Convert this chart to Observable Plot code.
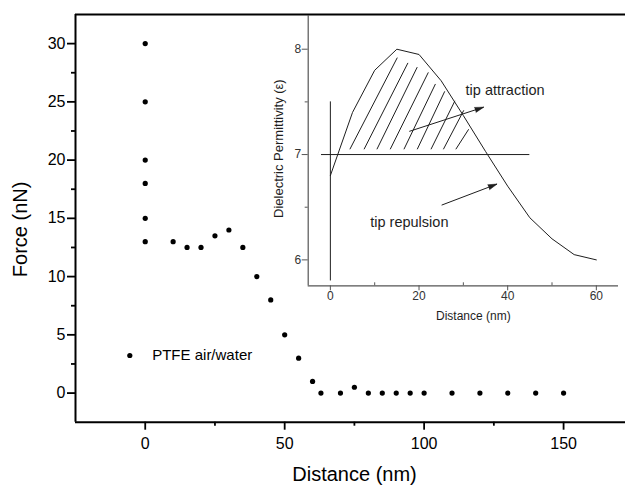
<!DOCTYPE html>
<html>
<head>
<meta charset="utf-8">
<script src="https://cdn.jsdelivr.net/npm/d3@7"></script>
<script src="https://cdn.jsdelivr.net/npm/@observablehq/plot@0.6"></script>
<style>
  html, body { margin: 0; padding: 0; background: white; }
  #wrap { position: relative; width: 625px; height: 487px; overflow: hidden; }
  #wrap svg { position: absolute; left: 0; top: 0; }
</style>
</head>
<body>
<div id="wrap"></div>
<script>
// ---- main chart data ----
const mainX = [0, 0, 0, 0, 0, 0, 10, 15, 20, 25, 30, 35, 40, 45, 50, 55, 60, 63, 70, 75, 80, 85, 90, 95, 100, 110, 120, 130, 140, 150];
const mainY = [30, 25, 20, 18, 15, 13, 13, 12.5, 12.5, 13.5, 14, 12.5, 10, 8, 5, 3, 1, 0, 0, 0.5, 0, 0, 0, 0, 0, 0, 0, 0, 0, 0];
const mainXTicks = [0, 50, 100, 150];
const mainXMinor = [25, 75, 125];
const mainYTicks = [0, 5, 10, 15, 20, 25, 30];
const mainYMinor = [2.5, 7.5, 12.5, 17.5, 22.5, 27.5];
const mainXLabel = "Distance (nm)";
const mainYLabel = "Force (nN)";
const legendLabel = "PTFE air/water";

// ---- inset data ----
const insetX = [0, 5, 10, 15, 20, 25, 30, 35, 40, 45, 50, 55, 60];
const insetY = [6.8, 7.4, 7.8, 8.0, 7.95, 7.7, 7.37, 7.03, 6.7, 6.4, 6.2, 6.05, 6.0];
const insetXTicks = [0, 20, 40, 60];
const insetXMinor = [10, 30, 50];
const insetYTicks = [6, 7, 8];
const insetYMinor = [6.5, 7.5];
const insetXLabel = "Distance (nm)";
const insetYLabel = "Dielectric Permittivity (ε)";
// reference lines
const hLineY = 7, hLineX = [-2, 45];
const vLineX = 0, vLineY = [5.8, 7.5];
// hatching (bottom x, bottom y, top x, top y)
const hatchX1 = [4.4, 7.6, 10.5, 13.5, 16.6, 19.6, 22.7, 25.5, 28.3];
const hatchY1 = [7.05, 7.05, 7.05, 7.05, 7.05, 7.05, 7.05, 7.05, 7.05];
const hatchX2 = [15.1, 17.5, 19.6, 22.1, 23.7, 25.8, 28.1, 30.1, 31.2];
const hatchY2 = [7.92, 7.87, 7.83, 7.78, 7.67, 7.6, 7.51, 7.42, 7.24];
// annotations
const annLabels = ["tip attraction", "tip repulsion"];
const annX = [30.5, 9.0];
const annY = [7.61, 6.36];
const arrowX1 = [17.8, 25.1], arrowY1 = [7.22, 6.52];
const arrowX2 = [34.6, 37.6], arrowY2 = [7.45, 6.72];

const FONT = "Liberation Sans, Arial, Helvetica, sans-serif";
const W = 625, H = 487;

const mainData = mainX.map((x, i) => ({x, y: mainY[i]}));

const main = Plot.plot({
  width: W, height: H,
  marginLeft: 75, marginRight: 0, marginTop: 14, marginBottom: 65.3,
  x: {domain: [-25, 172.2], label: null},
  y: {domain: [-2.5, 32.5], label: null},
  style: {background: "transparent", overflow: "visible", fontFamily: FONT},
  marks: [
    Plot.ruleX([-25], {stroke: "black", strokeWidth: 2}),
    Plot.ruleY([-2.5], {stroke: "black", strokeWidth: 2}),
    Plot.ruleY([32.5], {stroke: "black", strokeWidth: 1.8}),
    Plot.axisX({ticks: mainXTicks, tickSize: 8, tickPadding: 7, fontSize: 16, color: "black", strokeWidth: 1.8, label: null}),
    Plot.axisX({ticks: mainXMinor, tickSize: 4, tickFormat: () => "", color: "black", strokeWidth: 1.8, label: null}),
    Plot.axisY({ticks: mainYTicks, tickSize: 8, tickPadding: 2, fontSize: 16, color: "black", strokeWidth: 1.8, label: null}),
    Plot.axisY({ticks: mainYMinor, tickSize: 4, tickFormat: () => "", color: "black", strokeWidth: 1.8, label: null}),
    Plot.dot(mainData, {x: "x", y: "y", r: 2.6, fill: "black"}),
    Plot.text([mainXLabel], {text: d => d, frameAnchor: "bottom", dx: 4, dy: 52, fontSize: 20, textAnchor: "middle", lineAnchor: "middle", fill: "black"}),
    Plot.text([mainYLabel], {text: d => d, frameAnchor: "left", dx: -55, dy: 11, rotate: -90, fontSize: 20, textAnchor: "middle", lineAnchor: "middle", fill: "black"}),
    Plot.dot([legendLabel], {frameAnchor: "top-left", dx: 54.3, dy: 341, r: 2.6, fill: "black"}),
    Plot.text([legendLabel], {text: d => d, frameAnchor: "top-left", dx: 76.7, dy: 341, textAnchor: "start", lineAnchor: "middle", fontSize: 15, fill: "black"})
  ]
});

// ---- inset ----
const inXDomain = [-5, 65], inYDomain = [5.754, 8.32];
const inMargins = {marginLeft: 307.7, marginRight: 7, marginTop: 15, marginBottom: 201.7};
const sx = Plot.scale({x: {domain: inXDomain, range: [inMargins.marginLeft, W - inMargins.marginRight]}});
const sy = Plot.scale({y: {domain: inYDomain, range: [H - inMargins.marginBottom, inMargins.marginTop]}});

const curve = insetX.map((x, i) => ({x, y: insetY[i]}));
const hatch = hatchX1.map((x, i) => ({x1: x, y1: hatchY1[i], x2: hatchX2[i], y2: hatchY2[i]}));
const arrows = arrowX1.map((x, i) => {
  const dx = sx.apply(arrowX2[i]) - sx.apply(x);
  const dy = sy.apply(arrowY2[i]) - sy.apply(arrowY1[i]);
  return {x1: x, y1: arrowY1[i], x2: arrowX2[i], y2: arrowY2[i], angle: Math.atan2(dx, -dy) * 180 / Math.PI};
});
const ann = annLabels.map((t, i) => ({t, x: annX[i], y: annY[i]}));
const INK = "#1e1e1e", AX = "#555";

const inset = Plot.plot({
  width: W, height: H, ...inMargins,
  x: {domain: inXDomain, label: null},
  y: {domain: inYDomain, label: null},
  style: {background: "transparent", overflow: "visible", fontFamily: FONT},
  marks: [
    Plot.ruleX([inXDomain[0]], {stroke: AX, strokeWidth: 1.2}),
    Plot.ruleY([inYDomain[0]], {stroke: AX, strokeWidth: 1.2}),
    Plot.axisX({ticks: insetXTicks, tickSize: 5, tickPadding: 1, tickFormat: d => String(d), fontSize: 12, stroke: AX, fill: "#333", label: null}),
    Plot.axisX({ticks: insetXMinor, tickSize: 3, dy: -3, tickFormat: () => "", stroke: AX, label: null}),
    Plot.axisY({ticks: insetYTicks, tickSize: 6, tickPadding: 1, tickFormat: d => String(d), fontSize: 12, stroke: AX, fill: "#333", label: null}),
    Plot.axisY({ticks: insetYMinor, tickSize: 3, tickFormat: () => "", stroke: AX, label: null}),
    Plot.ruleY([hLineY], {x1: hLineX[0], x2: hLineX[1], stroke: INK, strokeWidth: 1}),
    Plot.ruleX([vLineX], {y1: vLineY[0], y2: vLineY[1], stroke: INK, strokeWidth: 1}),
    Plot.line(curve, {x: "x", y: "y", stroke: INK, strokeWidth: 1}),
    Plot.link(hatch, {x1: "x1", y1: "y1", x2: "x2", y2: "y2", stroke: INK, strokeWidth: 1}),
    Plot.link(arrows, {x1: "x1", y1: "y1", x2: "x2", y2: "y2", stroke: INK, strokeWidth: 1}),
    Plot.vector(arrows, {x: "x2", y: "y2", rotate: "angle", length: 9, r: 2.6, shape: "spike", anchor: "end", fill: INK, stroke: INK, strokeWidth: 0.5}),
    Plot.text(ann, {x: "x", y: "y", text: "t", textAnchor: "start", fontSize: 14.5, fill: INK}),
    Plot.text([insetXLabel], {text: d => d, frameAnchor: "bottom", dx: 10, dy: 30, fontSize: 12, textAnchor: "middle", lineAnchor: "middle", fill: INK}),
    Plot.text([insetYLabel], {text: d => d, frameAnchor: "left", dx: -29, dy: -2, rotate: -90, fontSize: 13, textAnchor: "middle", lineAnchor: "middle", fill: INK})
  ]
});

const wrap = document.getElementById("wrap");
wrap.appendChild(main);
wrap.appendChild(inset);
</script>
</body>
</html>
